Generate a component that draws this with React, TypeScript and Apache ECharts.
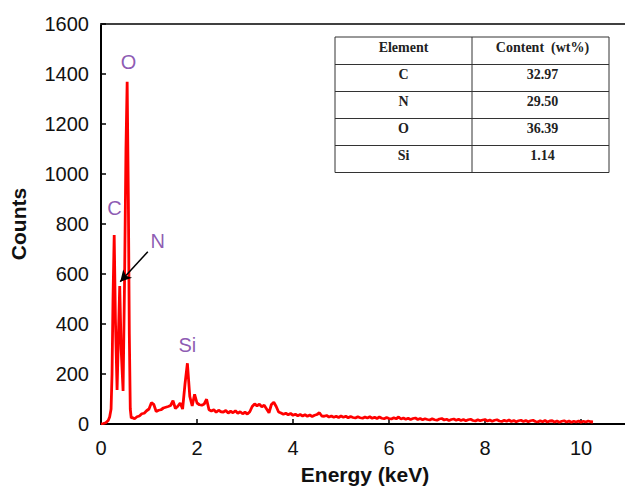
import React, { useEffect, useRef } from "react";
import * as echarts from "echarts";

// EDS spectrum: the characteristic peaks at low energy (keV, counts)
const peakEnergy = [
  0.0, 0.05, 0.1, 0.15, 0.18, 0.21, 0.23, 0.25, 0.275, 0.3, 0.335, 0.36, 0.39, 0.42, 0.46, 0.49,
  0.52, 0.545, 0.57, 0.59, 0.61, 0.63,
];
const peakCounts = [
  0, 2, 5, 14, 28, 60, 200, 500, 756, 420, 136, 330, 552, 300, 132, 560,
  1100, 1369, 900, 360, 60, 24,
];

// Bremsstrahlung background and minor lines, one reading every 0.05 keV from 0.65 keV
const continuumStart = 0.65;
const channelStep = 0.05;
const continuumCounts = [
  26, 21, 29, 32, 41, 43, 53, 60, 85, 78, 50, 55, 57, 64, 67, 70, 74, 93, 62, 71,
  84, 60, 160, 243, 110, 72, 119, 84, 77, 75, 80, 99, 57, 52, 57, 47, 55, 49, 48, 54,
  44, 51, 45, 53, 43, 49, 41, 47, 40, 49, 70, 80, 73, 79, 69, 75, 60, 45, 78, 87,
  70, 48, 44, 39, 43, 37, 42, 35, 39, 33, 38, 32, 37, 31, 36, 30, 35, 38, 45, 32,
  31, 34, 28, 32, 27, 31, 26, 32, 27, 31, 25, 30, 26, 24, 29, 25, 23, 28, 24, 29,
  23, 27, 22, 28, 23, 21, 26, 22, 20, 25, 21, 28, 20, 24, 19, 23, 18, 22, 24, 18,
  22, 17, 21, 18, 16, 21, 17, 15, 20, 22, 16, 19, 14, 18, 20, 15, 19, 14, 18, 13,
  17, 19, 14, 12, 17, 13, 16, 18, 12, 16, 11, 15, 17, 12, 10, 15, 11, 16, 10, 14,
  9, 13, 15, 10, 14, 9, 13, 15, 10, 8, 13, 9, 14, 8, 12, 13, 8, 12, 7, 11,
  13, 8, 12, 7, 11, 8, 12, 7, 11, 8, 12, 9, 8,
];

// Peak labels placed in data space (keV, counts)
const peakLabels = ["O", "C", "N", "Si"];
const peakLabelX = [0.573, 0.281, 1.18, 1.8];
const peakLabelY = [1448, 864, 732, 316];

// Arrow pointing at the N peak: from tail to head (keV, counts)
const arrowFrom = [0.975, 689];
const arrowTo = [0.4, 569];

// Composition table
const tableHeader = ["Element", "Content  (wt%)"];
const tableElements = ["C", "N", "O", "Si"];
const tableContents = ["32.97", "29.50", "36.39", "1.14"];

const X_TICKS = [0, 2, 4, 6, 8, 10];
const Y_TICKS = [0, 200, 400, 600, 800, 1000, 1200, 1400, 1600];

function buildTable(): any[] {
  const left = 335;
  const mid = 472;
  const right = 609;
  const top = 37;
  const rowH = 27.1;
  const rows = [tableHeader].concat(
    tableElements.map((el, i) => [el, tableContents[i]])
  );
  const items: any[] = [];
  const lineStyle = { stroke: "#333", lineWidth: 1 };
  const bottom = top + rowH * rows.length;
  items.push({
    type: "rect",
    shape: { x: left, y: top, width: right - left, height: bottom - top },
    style: { fill: "#fff", stroke: "#333", lineWidth: 1 },
    z: 10,
  });
  items.push({
    type: "line",
    shape: { x1: mid, y1: top, x2: mid, y2: bottom },
    style: lineStyle,
    z: 11,
  });
  for (let r = 1; r < rows.length; r++) {
    const y = Math.round(top + rowH * r) + 0.5;
    items.push({
      type: "line",
      shape: { x1: left, y1: y, x2: right, y2: y },
      style: lineStyle,
      z: 11,
    });
  }
  rows.forEach((row, r) => {
    const cy = top + rowH * r + 10;
    [row[0], row[1]].forEach((txt, c) => {
      items.push({
        type: "text",
        x: c === 0 ? (left + mid) / 2 : (mid + right) / 2 + 2,
        y: cy,
        style: {
          text: txt,
          fill: "#222",
          font: 'bold 14px "Liberation Serif"',
          align: "center",
          verticalAlign: "middle",
        },
        z: 12,
      });
    });
  });
  return items;
}

export default function App() {
  const ref = useRef<HTMLDivElement>(null);

  useEffect(() => {
    document.body.style.margin = "0";
    if (!ref.current) return;
    const chart = echarts.init(ref.current, undefined, { renderer: "svg" });

    const spectrum: number[][] = peakEnergy.map((e, i) => [e, peakCounts[i]]);
    continuumCounts.forEach((c, i) => {
      spectrum.push([+(continuumStart + channelStep * i).toFixed(3), c]);
    });

    const labelData = peakLabels.map((name, i) => ({
      name,
      value: [peakLabelX[i], peakLabelY[i]],
    }));

    const axisFont = {
      fontFamily: '"Liberation Sans", Arial, sans-serif',
      fontSize: 20,
      color: "#111",
      formatter: (v: number) => String(v),
    };

    chart.setOption({
      animation: false,
      backgroundColor: "#fff",
      grid: {
        left: 101,
        right: -4,
        top: 24,
        bottom: 64,
        containLabel: false,
        outerBoundsMode: "none",
      },
      xAxis: [
        {
          type: "value",
          min: 0,
          max: 11,
          name: "Energy (keV)",
          nameLocation: "middle",
          nameGap: 40,
          nameTextStyle: {
            fontFamily: '"Liberation Sans", Arial, sans-serif',
            fontSize: 21,
            fontWeight: "bold",
            color: "#111",
          },
          axisLine: { lineStyle: { color: "#000", width: 2 } },
          axisTick: {
            inside: true,
            length: 5,
            customValues: X_TICKS,
            lineStyle: { color: "#000", width: 1.5 },
          },
          axisLabel: { ...axisFont, margin: 14, customValues: X_TICKS },
          splitLine: { show: false },
        },
        {
          type: "value",
          position: "top",
          min: 0,
          max: 11,
          axisLine: { show: true, lineStyle: { color: "#404040", width: 2 } },
          axisTick: { show: false },
          axisLabel: { show: false },
          splitLine: { show: false },
        },
      ],
      yAxis: {
        type: "value",
        min: 0,
        max: 1600,
        interval: 200,
        name: "Counts",
        nameLocation: "middle",
        nameGap: 72,
        nameTextStyle: {
          fontFamily: '"Liberation Sans", Arial, sans-serif',
          fontSize: 21,
          fontWeight: "bold",
          color: "#111",
        },
        axisLine: { show: true, lineStyle: { color: "#000", width: 2 } },
        axisTick: {
          show: true,
          inside: true,
          length: 5,
          customValues: Y_TICKS,
          lineStyle: { color: "#000", width: 1.5 },
        },
        axisLabel: { ...axisFont, margin: 12, customValues: Y_TICKS },
        splitLine: { show: false },
      },
      series: [
        {
          type: "line",
          data: spectrum,
          showSymbol: false,
          symbol: "none",
          lineStyle: { color: "#ff0000", width: 2.8 },
          z: 3,
        },
        {
          type: "scatter",
          data: labelData,
          symbolSize: 0,
          label: {
            show: true,
            position: "inside",
            formatter: "{b}",
            color: "#7030a0",
            fontFamily: '"Liberation Sans", Arial, sans-serif',
            fontSize: 20,
          },
          markLine: {
            silent: true,
            symbol: ["none", "arrow"],
            symbolSize: [9, 11],
            label: { show: false },
            lineStyle: { color: "#000", width: 1.5, type: "solid" },
            data: [[{ coord: arrowFrom }, { coord: arrowTo }]],
          },
          z: 5,
        },
      ],
      graphic: buildTable(),
    });

    return () => chart.dispose();
  }, []);

  return <div ref={ref} style={{ width: 625, height: 488 }} />;
}
